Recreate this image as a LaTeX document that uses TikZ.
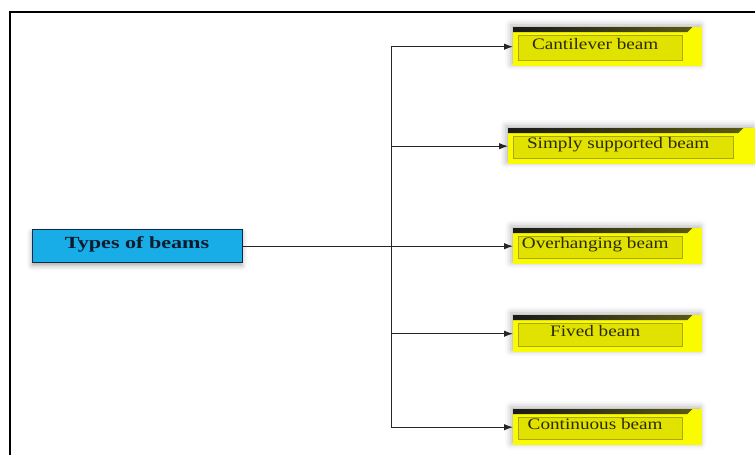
\documentclass[tikz,border=0pt]{standalone}
\usepackage{fontspec}
\setmainfont{Liberation Serif}
\newfontfamily\ybfont[FakeStretch=1.2]{Liberation Serif}
\newfontfamily\ttlfont[FakeStretch=1.3]{Liberation Serif}
\usetikzlibrary{arrows.meta,shadows.blur,calc,backgrounds}
\definecolor{sideY}{HTML}{FAFA00}
\definecolor{innerY}{HTML}{E2E200}
\definecolor{innerB}{HTML}{A8A810}
\definecolor{topR}{HTML}{5A5A10}
\definecolor{txtY}{HTML}{2B2B0A}
\definecolor{blueF}{HTML}{18ADE6}
\definecolor{blueB}{HTML}{0E2A45}
\definecolor{blueT}{HTML}{0D1B2E}
\begin{document}
\begin{tikzpicture}[x=1pt,y=-1pt,
  ybox/.style={rectangle, inner sep=0pt, text height=11pt, text depth=0pt,
    font=\ybfont\fontsize{16}{18}\selectfont, text=txtY, anchor=north west},
  mainbox/.style={rectangle, inner sep=0pt, fill=blueF, draw=blueB, line width=1pt,
    text height=11pt, text depth=0pt, font=\ttlfont\bfseries\fontsize{17}{19}\selectfont, text=blueT,
    blur shadow={shadow xshift=0pt, shadow yshift=-3pt, shadow blur radius=5pt, shadow opacity=35}},
  conn/.style={draw=black!85, line width=1pt, -{Latex[length=9pt,width=6.5pt]}},
  frame/.style={line width=1.5pt, draw=black}]
\useasboundingbox (0,0) rectangle (755,455);
\coordinate (fa) at (10,455);
\coordinate (fb) at (10,12);
\coordinate (fc) at (755,12);
\draw[frame] (fa) -- (fb) -- (fc);

\node[mainbox, minimum width=210pt, minimum height=33pt] (main) at (137,246) {\raisebox{3pt}{Types of beams}};

\node[ybox, minimum width=174pt, minimum height=39pt] (c1) at (513,27) {\hspace*{-10pt}\raisebox{3pt}{Cantilever beam}};
\node[ybox, minimum width=230pt, minimum height=36pt] (c2) at (508,128) {\hspace*{-10pt}\raisebox{3pt}{Simply supported beam}};
\node[ybox, minimum width=174pt, minimum height=36pt] (c3) at (513,228) {\hspace*{-10pt}\raisebox{3pt}{Overhanging beam}};
\node[ybox, minimum width=174pt, minimum height=37pt] (c4) at (513,315) {\hspace*{-10pt}\raisebox{3pt}{Fived beam}};
\node[ybox, minimum width=174pt, minimum height=36pt] (c5) at (513,409) {\hspace*{-10pt}\raisebox{3pt}{Continuous beam}};

\begin{scope}[on background layer]
\foreach \n/\s in {c1/15,c2/17,c3/15,c4/15,c5/15}{
  \fill[sideY, blur shadow={shadow xshift=-2pt, shadow yshift=2pt, shadow blur radius=6pt, shadow opacity=30}]
    (\n.north west) -- ($(\n.north east)+(\s,0)$) -- ($(\n.south east)+(\s,0)$) -- (\n.south west) -- cycle;
  \shade[left color=black!90, right color=topR] (\n.north west) -- ($(\n.north east)+(5,0)$)
    -- ($(\n.north east)+(0,5)$) -- ($(\n.north west)+(0,5)$) -- cycle;
  \draw[innerB, fill=innerY, line width=0.6pt] ($(\n.north west)+(5,8)$) rectangle ($(\n.south east)+(-5,-6)$);
}
\end{scope}

\coordinate (bus) at (391,246);
\draw[conn] (main.east) -- (bus) |- (c1.west);
\draw[conn] (main.east) -- (bus) |- (c2.west);
\draw[conn] (main.east) -- (bus) |- (c3.west);
\draw[conn] (main.east) -- (bus) |- (c4.west);
\draw[conn] (main.east) -- (bus) |- (c5.west);
\end{tikzpicture}
\end{document}
